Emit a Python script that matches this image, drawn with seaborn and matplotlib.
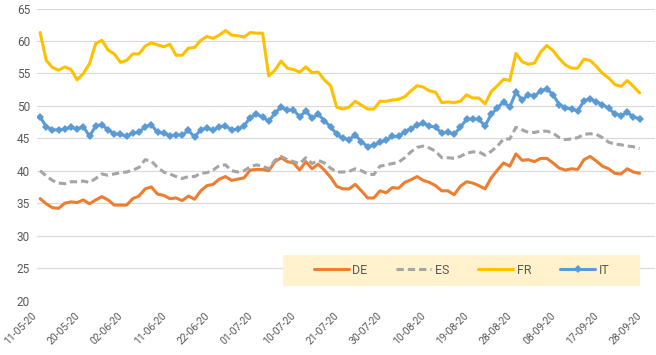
import numpy as np
import pandas as pd
import matplotlib
matplotlib.use("Agg")
import matplotlib.pyplot as plt
import matplotlib.transforms as mtransforms
from matplotlib.patches import Rectangle
import seaborn as sns

# ---------- data (one value per trading day) ----------
tick_labels = ["11-05-20", "20-05-20", "02-06-20", "11-06-20", "22-06-20",
               "01-07-20", "10-07-20", "21-07-20", "30-07-20", "10-08-20",
               "19-08-20", "28-08-20", "08-09-20", "17-09-20", "28-09-20"]
n_categories = 100
label_step = 7

de = [35.7, 34.9, 34.3, 34.2, 35.0, 35.2, 35.1, 35.5, 34.9, 35.5, 36.0, 35.5, 34.7,
      34.7, 34.7, 35.7, 36.1, 37.2, 37.5, 36.4, 36.2, 35.7, 35.8, 35.4, 36.1,
      35.6, 36.9, 37.7, 37.9, 38.7, 39.1, 38.5, 38.7, 38.9, 40.1, 40.2, 40.2, 40.0,
      41.4, 42.0, 41.4, 41.2, 40.1, 41.4, 40.3, 41.0, 40.1, 39.0,
      37.6, 37.2, 37.2, 37.9, 36.9, 35.8, 35.8, 36.9, 36.6, 37.4, 37.3, 38.2, 38.6,
      39.1, 38.5, 38.2, 37.7, 36.9, 36.9, 36.3, 37.6, 38.3, 38.1, 37.7,
      37.2, 38.9, 40.1, 41.2, 40.7, 42.6, 41.6, 41.7, 41.4, 41.9, 41.9, 41.2, 40.4,
      40.1, 40.3, 40.2, 41.7, 42.2, 41.5, 40.7, 40.3, 39.6, 39.5, 40.3, 39.8, 39.6]

es = [40.0, 39.2, 38.5, 38.1, 38.0, 38.3, 38.3, 38.4, 38.2, 38.8, 39.5, 39.3, 39.5,
      39.7, 39.8, 40.1, 40.5, 41.7, 41.5, 40.5, 39.8, 39.5, 39.1, 38.8, 39.1,
      39.1, 39.6, 39.7, 40.1, 40.8, 40.9, 40.0, 39.8, 40.0, 40.6, 40.9, 40.7, 40.3,
      41.6, 42.2, 41.7, 41.4, 41.1, 42.0, 41.1, 41.6, 41.2, 40.4,
      39.8, 39.8, 39.9, 40.3, 40.0, 39.5, 39.4, 40.7, 40.9, 41.1, 41.3, 42.0, 42.9,
      43.6, 43.8, 43.5, 43.0, 42.0, 42.0, 41.9, 42.2, 42.7, 42.9, 42.9,
      42.4, 43.0, 43.8, 44.9, 44.9, 46.7, 46.3, 45.9, 45.9, 46.1, 46.1, 45.8, 45.1,
      44.8, 44.9, 45.1, 45.6, 45.7, 45.6, 45.1, 44.4, 44.1, 44.0, 43.8, 43.7, 43.4]

fr = [61.3, 57.0, 55.9, 55.5, 56.0, 55.6, 54.0, 55.0, 56.5, 59.6, 60.1, 58.6, 58.0,
      56.7, 57.0, 58.0, 58.0, 59.2, 59.7, 59.4, 59.1, 59.5, 57.8, 57.8, 58.9,
      59.0, 60.1, 60.7, 60.4, 60.9, 61.6, 60.9, 60.8, 60.6, 61.3, 61.2, 61.2, 54.6,
      55.5, 56.9, 55.8, 55.6, 55.2, 56.0, 55.1, 55.2, 54.0, 53.1,
      49.8, 49.5, 49.8, 50.7, 50.1, 49.5, 49.5, 50.7, 50.7, 50.9, 51.0, 51.4, 52.3,
      53.1, 52.9, 52.3, 52.1, 50.5, 50.6, 50.5, 50.7, 51.7, 51.2, 51.2,
      50.3, 52.2, 53.1, 54.1, 53.9, 58.1, 56.8, 56.4, 56.6, 58.3, 59.3, 58.5, 57.3,
      56.3, 55.8, 55.8, 57.2, 57.0, 56.1, 55.0, 54.3, 53.3, 53.0, 53.9, 53.0, 52.0]

it = [48.3, 46.8, 46.3, 46.3, 46.4, 46.7, 46.4, 46.8, 45.3, 46.9, 47.1, 46.3, 45.7,
      45.6, 45.3, 45.8, 45.9, 46.8, 47.1, 45.9, 45.8, 45.4, 45.5, 45.5, 46.2,
      45.2, 46.3, 46.6, 46.2, 46.8, 46.9, 46.3, 46.4, 46.9, 48.2, 48.7, 48.3, 47.6,
      48.9, 49.8, 49.3, 49.4, 48.3, 49.2, 48.1, 48.7, 47.7, 46.8,
      45.6, 45.0, 44.8, 45.5, 44.5, 43.7, 43.9, 44.4, 44.7, 45.3, 45.3, 46.0, 46.5,
      47.0, 47.3, 46.9, 46.7, 45.8, 45.9, 45.6, 46.7, 47.9, 48.0, 47.9,
      46.9, 48.7, 49.7, 50.6, 49.8, 52.1, 50.9, 51.7, 51.5, 52.3, 52.6, 51.7, 50.2,
      49.7, 49.5, 49.2, 50.8, 51.1, 50.6, 50.2, 49.6, 48.8, 48.5, 49.0, 48.3, 48.0]

colors = {"DE": "#ED7D31", "ES": "#A5A5A5", "FR": "#FFC000", "IT": "#5B9BD5"}

df = pd.DataFrame({"DE": de, "ES": es, "FR": fr, "IT": it})
df["idx"] = np.arange(len(df))

# ---------- style ----------
sns.set_theme(style="white")
plt.rcParams["font.family"] = ["Roboto", "DejaVu Sans"]
text_grey = "#595959"

fig = plt.figure(figsize=(6.56, 3.55), dpi=100)
ax = fig.add_axes([37 / 656, 54.5 / 355, 618 / 656, 292 / 355])

lw = 2.2
sns.lineplot(data=df, x="idx", y="DE", ax=ax, color=colors["DE"], linewidth=lw, label="DE")
sns.lineplot(data=df, x="idx", y="ES", ax=ax, color=colors["ES"], linewidth=lw,
             linestyle=(0, (2.4, 1.3)), label="ES")
sns.lineplot(data=df, x="idx", y="FR", ax=ax, color=colors["FR"], linewidth=lw, label="FR")
sns.lineplot(data=df, x="idx", y="IT", ax=ax, color=colors["IT"], linewidth=lw,
             marker="D", markersize=4, markeredgewidth=0, label="IT")

# ---------- axes ----------
ax.set_xlim(-0.5, n_categories - 0.5)
ax.set_ylim(20, 65)
ax.set_yticks(np.arange(20, 66, 5))
ax.set_xticks(np.arange(0, label_step * len(tick_labels), label_step))
ax.set_xticklabels(tick_labels, rotation=45, ha="right", va="top")
ax.set_xlabel("")
ax.set_ylabel("")

ax.yaxis.grid(True, color="#D9D9D9", linewidth=0.8)
ax.xaxis.grid(False)
ax.set_axisbelow(True)
for sp in ax.spines.values():
    sp.set_visible(False)
ax.tick_params(axis="both", length=0, colors=text_grey)
ax.tick_params(axis="y", pad=5, labelsize=8.5)
ax.tick_params(axis="x", pad=7, labelsize=7.5)

# nudge rotated date labels a little left
offset = mtransforms.ScaledTranslation(-2 / 100, 0, fig.dpi_scale_trans)
for lab in ax.get_xticklabels():
    lab.set_transform(lab.get_transform() + offset)

# ---------- legend on a pale yellow band ----------
ax.add_patch(Rectangle((0.398, 0.051), 0.578, 0.105, transform=ax.transAxes,
                       facecolor="#FFF2CC", edgecolor="none", zorder=3))
leg = ax.legend(loc="center", bbox_to_anchor=(0.687, 0.1035), ncol=4, frameon=False,
                fontsize=9, handlelength=2.8, handletextpad=0.3, columnspacing=2.3)
leg.set_zorder(4)
for t in leg.get_texts():
    t.set_color(text_grey)

plt.savefig("out.png", dpi=100)
